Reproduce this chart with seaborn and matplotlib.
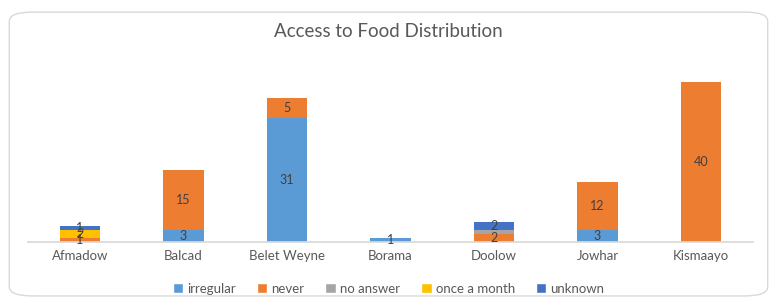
import pandas as pd
import seaborn as sns
import matplotlib.pyplot as plt
from matplotlib.patches import FancyBboxPatch, Patch

# ----------------------------------------------------------------------
# Data
# ----------------------------------------------------------------------
districts = ["Afmadow", "Balcad", "Belet Weyne", "Borama", "Doolow", "Jowhar", "Kismaayo"]
responses = ["irregular", "never", "no answer", "once a month", "unknown"]

irregular = [0, 3, 31, 1, 0, 3, 0]
never = [1, 15, 5, 0, 2, 12, 40]
no_answer = [0, 0, 0, 0, 1, 0, 0]
once_a_month = [2, 0, 0, 0, 0, 0, 0]
unknown = [1, 0, 0, 0, 2, 0, 0]

colors = ["#5B9BD5", "#ED7D31", "#A5A5A5", "#FFC000", "#4472C4"]
show_labels = [True, True, False, True, True]

series = [irregular, never, no_answer, once_a_month, unknown]
rows = []
for resp, vals in zip(responses, series):
    for d, v in zip(districts, vals):
        rows.append({"District": d, "Response": resp, "Count": v})
df = pd.DataFrame(rows)

# ----------------------------------------------------------------------
# Plot
# ----------------------------------------------------------------------
sns.set_theme(style="white")
plt.rcParams["font.family"] = ["Lato", "DejaVu Sans"]

fig = plt.figure(figsize=(7.77, 3.02), dpi=100)
fig.patches.append(FancyBboxPatch((0.012, 0.02), 0.976, 0.94, boxstyle="round,pad=0,rounding_size=0.03",
                                  transform=fig.transFigure, facecolor="none",
                                  edgecolor="#D9D9D9", linewidth=1.0, zorder=-1))
ax = fig.add_axes([0.036, 0.199, 0.933, 0.596])

# histplot stacks the last hue level at the bottom, so reverse the order
df["District"] = pd.Categorical(df["District"], categories=districts, ordered=True)
sns.histplot(data=df, x="District", hue="Response", weights="Count",
             hue_order=responses[::-1], palette=colors[::-1],
             multiple="stack", discrete=True, shrink=0.39,
             alpha=1, linewidth=0, legend=False, ax=ax)

# data labels centred in each segment
bottoms = [0] * len(districts)
for resp, vals, show in zip(responses, series, show_labels):
    for i, v in enumerate(vals):
        if v > 0 and show:
            ax.text(i, bottoms[i] + v / 2, str(v), ha="center", va="center",
                    fontsize=9, color="#404040")
        bottoms[i] += v

ax.set_ylim(0, 45)
ax.set_xlim(-0.5, len(districts) - 0.5)
ax.set_xticks(range(len(districts)))
ax.set_xticklabels(districts, fontsize=9.5, color="#595959")
ax.tick_params(axis="x", length=0, pad=6)
ax.set_yticks([])
ax.set_xlabel("")
ax.set_ylabel("")
for s in ["top", "right", "left"]:
    ax.spines[s].set_visible(False)
ax.spines["bottom"].set_color("#D9D9D9")
ax.set_facecolor("none")

fig.text(0.5, 0.895, "Access to Food Distribution", ha="center", va="center",
         fontsize=13.5, color="#595959")

handles = [Patch(facecolor=c, label=r) for c, r in zip(colors, responses)]
fig.legend(handles=handles, loc="center", bbox_to_anchor=(0.5, 0.043), ncol=5, frameon=False,
           fontsize=9.5, handlelength=0.8, handleheight=0.8, handletextpad=0.3,
           columnspacing=1.6, labelcolor="#595959")

fig.savefig("out.png", dpi=100)
